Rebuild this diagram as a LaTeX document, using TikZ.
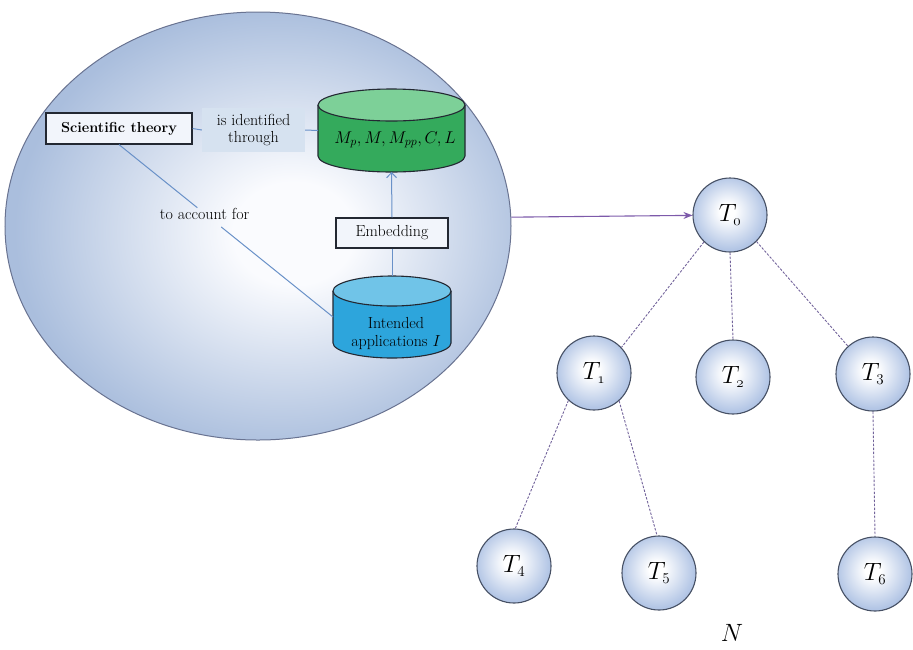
\documentclass[tikz,border=0pt]{standalone}
\usepackage{fix-cm}
\usetikzlibrary{shapes.geometric,arrows.meta}

\definecolor{bigin}{RGB}{250,251,254}
\definecolor{bigout}{RGB}{170,190,221}
\definecolor{bigrim}{RGB}{105,115,145}
\definecolor{linkblue}{RGB}{105,145,200}
\definecolor{idfill}{RGB}{214,226,240}
\definecolor{boxfill}{RGB}{242,245,251}
\definecolor{gbody}{RGB}{52,170,92}
\definecolor{gtop}{RGB}{125,208,152}
\definecolor{bbody}{RGB}{45,165,220}
\definecolor{btop}{RGB}{112,196,232}
\definecolor{cylline}{RGB}{35,40,50}
\definecolor{tout}{RGB}{178,197,229}
\definecolor{trim}{RGB}{70,80,100}
\definecolor{treeedge}{RGB}{115,100,155}
\definecolor{pointer}{RGB}{125,90,170}

\pgfdeclareradialshading{bigglow}{\pgfpoint{4bp}{-1bp}}{%
  color(0bp)=(bigin); color(6bp)=(bigin); color(26bp)=(bigout); color(50bp)=(bigout)}
\pgfdeclareradialshading{ballglow}{\pgfpoint{-2bp}{3bp}}{%
  color(0bp)=(white); color(5bp)=(white); color(25bp)=(tout); color(50bp)=(tout)}

\tikzset{
  txt/.style={font=\fontsize{16}{18}\selectfont, align=center, inner sep=0pt},
  framed/.style={draw=cylline, line width=1.2pt, fill=boxfill, inner sep=0pt},
  link/.style={draw=linkblue, line width=1pt},
  hidden/.style={inner sep=0pt, outer sep=0pt},
  edge rim/.style={draw=cylline, line width=1.1pt},
  theory/.style={circle, minimum size=74pt, inner sep=0pt, draw=trim, line width=1.1pt,
    shading=ballglow, font=\fontsize{25}{27}\selectfont},
  family/.style={draw=treeedge, line width=0.9pt, dash pattern=on 2.5pt off 1.5pt},
}
\newcommand\sub[1]{_{\mbox{\fontsize{15}{15}\selectfont$\mathnormal{#1}$}}}
\newcommand\lsub[1]{_{\mbox{\fontsize{15}{15}\selectfont$#1$}}}

\begin{document}
\begin{tikzpicture}[x=1pt,y=1pt]
\useasboundingbox (0,0) rectangle (913,-649);

% the enclosing theory element
\node[ellipse, minimum width=506pt, minimum height=428pt, inner sep=0pt,
      draw=bigrim, line width=1pt, shading=bigglow] (big) at (258,-226) {};

% cylinder holding the models
\fill[gbody] (318,-105) -- (318,-156) arc[start angle=180,end angle=360,x radius=73.5,y radius=16] -- (465,-105) -- cycle;
\draw[edge rim] (318,-105) -- (318,-156) arc[start angle=180,end angle=360,x radius=73.5,y radius=16] -- (465,-105);
\draw[edge rim, fill=gtop] (391.5,-105) ellipse[x radius=73.5, y radius=16];
\node[hidden, minimum width=147pt, minimum height=83pt] (gcyl) at (391.5,-130.5) {};
\node[txt, font=\fontsize{17}{19}\selectfont] (gtext) at (395,-140) {$M_p, M, M_{pp}, C, L$};

% cylinder holding the intended applications
\fill[bbody] (333,-291) -- (333,-343) arc[start angle=180,end angle=360,x radius=59,y radius=15] -- (451,-291) -- cycle;
\draw[edge rim] (333,-291) -- (333,-343) arc[start angle=180,end angle=360,x radius=59,y radius=15] -- (451,-291);
\draw[edge rim, fill=btop] (392,-291) ellipse[x radius=59, y radius=15];
\node[hidden, minimum width=118pt, minimum height=82pt] (bcyl) at (392,-317) {};
\node[txt] (btext) at (396,-333) {Intended\\[0pt]applications $I$};

% boxes
\node[framed, minimum width=146pt, minimum height=31pt, font=\fontsize{14.5}{16}\selectfont\bfseries] (st) at (119,-128.5) {Scientific theory};
\node[txt, fill=idfill, minimum width=103pt, minimum height=44pt] (idt) at (253.5,-130) {is identified\\[-1pt]through};
\node[framed, minimum width=112pt, minimum height=30pt, font=\fontsize{16}{18}\selectfont] (emb) at (392,-233) {Embedding};

% relations inside the element
\draw[link] (st.east) -- (idt.west);
\draw[link] (idt.east) -- (gcyl.west);
\draw[link, -{Straight Barb[length=5pt,width=10pt]}] (emb.north) -- (gcyl.south);
\draw[link] (emb.south) -- (bcyl.north);
\path (st.south) -- (bcyl.west) node[txt, pos=0.40] (acc) {to account for};
\draw[link] (st.south) -- (acc);
\draw[link, shorten <=12pt] (acc) -- (bcyl.west);

% the theory net
\node[theory] (T0) at (730,-215) {$T\sub{0}$};
\node[theory] (T1) at (594,-373) {$T\sub{1}$};
\node[theory] (T2) at (733,-377) {$T\sub{2}$};
\node[theory] (T3) at (873,-374) {$T\lsub{3}$};
\node[theory] (T4) at (514,-566) {$T\lsub{4}$};
\node[theory] (T5) at (659,-573) {$T\lsub{5}$};
\node[theory] (T6) at (875,-574) {$T\lsub{6}$};
\node[font=\fontsize{25}{27}\selectfont] (N) at (732,-633) {$N$};

\draw[pointer, line width=1.1pt, -{Stealth[length=9pt,width=7pt]}] (big.2) -- (T0);

\draw[family] (T0.226) -- (T1.43);
\draw[family] (T0.south) -- (T2.north);
\draw[family] (T0.315) -- (T3.132);
\draw[family] (T1.227) -- (T4.88);
\draw[family] (T1.312) -- (T5.93);
\draw[family] (T3.south) -- (T6.north);
\end{tikzpicture}
\end{document}
